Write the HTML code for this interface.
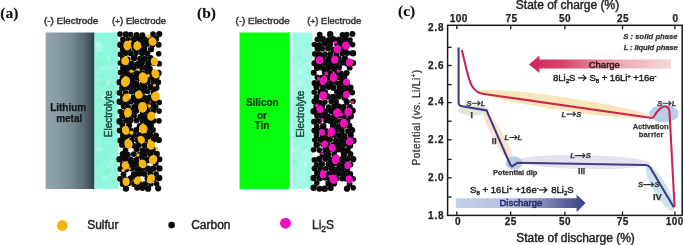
<!DOCTYPE html>
<html><head><meta charset="utf-8"><style>
html,body{margin:0;padding:0;background:#fff;width:685px;height:245px;overflow:hidden;}
svg{display:block;font-family:"Liberation Sans", sans-serif;filter:blur(0.35px);}
</style></head><body>
<svg width="685" height="245" viewBox="0 0 685 245"><defs>
<linearGradient id="gMetal" x1="0" x2="1" y1="0" y2="0">
  <stop offset="0" stop-color="#a3b3b8"/>
  <stop offset="0.04" stop-color="#8fa3aa"/>
  <stop offset="0.3" stop-color="#879ba2"/>
  <stop offset="0.55" stop-color="#74898f"/>
  <stop offset="0.8" stop-color="#546a71"/>
  <stop offset="1" stop-color="#2d4046"/>
</linearGradient>
<linearGradient id="gCharge" x1="0" x2="1" y1="0" y2="0">
  <stop offset="0" stop-color="#d1255c"/>
  <stop offset="0.25" stop-color="#d8466e"/>
  <stop offset="0.45" stop-color="#e27d97"/>
  <stop offset="0.7" stop-color="#eeb1bc"/>
  <stop offset="1" stop-color="#f6d6d9"/>
</linearGradient>
<linearGradient id="gDis" x1="0" x2="1" y1="0" y2="0">
  <stop offset="0" stop-color="#c0d3e9"/>
  <stop offset="0.42" stop-color="#b3bfdb"/>
  <stop offset="0.68" stop-color="#8089b8"/>
  <stop offset="1" stop-color="#3a4182"/>
</linearGradient>
</defs>
<text x="0.3" y="18.1" font-family='"Liberation Serif", serif' font-size="15.5" font-weight="bold" font-style="normal" fill="#111" stroke="#111" stroke-width="0.15" text-anchor="start" >(a)</text>
<text x="197" y="17.9" font-family='"Liberation Serif", serif' font-size="15.5" font-weight="bold" font-style="normal" fill="#111" stroke="#111" stroke-width="0.15" text-anchor="start" >(b)</text>
<text x="398" y="15.8" font-family='"Liberation Serif", serif' font-size="15.5" font-weight="bold" font-style="normal" fill="#111" stroke="#111" stroke-width="0.15" text-anchor="start" >(c)</text>
<text x="0" y="0" font-family='"Liberation Sans", sans-serif' font-size="9" font-weight="normal" font-style="normal" fill="#333" stroke="#333" stroke-width="0.42" text-anchor="start"  transform="translate(44 23.5) scale(1.095 1)">(-) Electrode</text>
<text x="0" y="0" font-family='"Liberation Sans", sans-serif' font-size="9" font-weight="normal" font-style="normal" fill="#333" stroke="#333" stroke-width="0.42" text-anchor="start"  transform="translate(112 23.5) scale(1.055 1)">(<tspan font-size="8">+</tspan>) Electrode</text>
<rect x="45.5" y="32.5" width="49" height="156.5" fill="url(#gMetal)"/>
<rect x="94.5" y="32.5" width="24" height="156.5" fill="#8ef7dc"/>
<g clip-path="none"><ellipse cx="101.5" cy="117.7" rx="2.2" ry="2.7" fill="#80f2c8" fill-opacity="0.16"/><ellipse cx="97.3" cy="162.3" rx="2.0" ry="2.0" fill="#80f2c8" fill-opacity="0.22"/><ellipse cx="112.9" cy="107.4" rx="2.8" ry="1.8" fill="#80f2c8" fill-opacity="0.28"/><ellipse cx="106.9" cy="147.7" rx="2.8" ry="1.6" fill="#80f2c8" fill-opacity="0.24"/><ellipse cx="102.7" cy="39.7" rx="3.2" ry="2.4" fill="#80f2c8" fill-opacity="0.28"/><ellipse cx="110.6" cy="175.0" rx="2.3" ry="3.1" fill="#d0fff4" fill-opacity="0.39"/><ellipse cx="113.7" cy="49.8" rx="1.8" ry="1.9" fill="#80f2c8" fill-opacity="0.22"/><ellipse cx="108.9" cy="80.8" rx="2.5" ry="2.3" fill="#d0fff4" fill-opacity="0.32"/><ellipse cx="108.1" cy="172.4" rx="2.9" ry="3.4" fill="#80f2c8" fill-opacity="0.30"/><ellipse cx="109.8" cy="59.8" rx="3.2" ry="3.4" fill="#80f2c8" fill-opacity="0.24"/><ellipse cx="110.6" cy="67.1" rx="3.2" ry="2.6" fill="#d0fff4" fill-opacity="0.21"/><ellipse cx="113.2" cy="185.5" rx="1.7" ry="3.1" fill="#d0fff4" fill-opacity="0.23"/><ellipse cx="102.6" cy="151.9" rx="3.2" ry="1.6" fill="#80f2c8" fill-opacity="0.16"/><ellipse cx="110.7" cy="85.3" rx="3.3" ry="3.5" fill="#80f2c8" fill-opacity="0.30"/><ellipse cx="102.9" cy="46.7" rx="2.7" ry="1.6" fill="#d0fff4" fill-opacity="0.28"/><ellipse cx="108.6" cy="58.7" rx="1.6" ry="3.2" fill="#d0fff4" fill-opacity="0.39"/><ellipse cx="114.0" cy="92.4" rx="2.4" ry="2.5" fill="#80f2c8" fill-opacity="0.24"/><ellipse cx="107.6" cy="129.3" rx="3.4" ry="2.5" fill="#d0fff4" fill-opacity="0.34"/><ellipse cx="101.5" cy="80.8" rx="3.5" ry="2.5" fill="#80f2c8" fill-opacity="0.15"/><ellipse cx="104.9" cy="123.2" rx="1.5" ry="2.7" fill="#80f2c8" fill-opacity="0.16"/><ellipse cx="108.9" cy="105.9" rx="2.9" ry="2.2" fill="#80f2c8" fill-opacity="0.26"/><ellipse cx="97.4" cy="44.2" rx="2.9" ry="3.4" fill="#d0fff4" fill-opacity="0.29"/><ellipse cx="108.3" cy="83.6" rx="2.2" ry="2.1" fill="#d0fff4" fill-opacity="0.32"/><ellipse cx="102.7" cy="92.3" rx="3.0" ry="1.6" fill="#80f2c8" fill-opacity="0.26"/><ellipse cx="102.9" cy="68.8" rx="3.1" ry="2.0" fill="#d0fff4" fill-opacity="0.29"/><ellipse cx="110.3" cy="50.5" rx="2.1" ry="2.2" fill="#80f2c8" fill-opacity="0.22"/><ellipse cx="113.3" cy="60.7" rx="2.2" ry="2.8" fill="#80f2c8" fill-opacity="0.22"/><ellipse cx="101.3" cy="53.4" rx="2.6" ry="1.9" fill="#80f2c8" fill-opacity="0.28"/><ellipse cx="100.5" cy="77.3" rx="3.1" ry="2.8" fill="#80f2c8" fill-opacity="0.20"/><ellipse cx="99.5" cy="79.4" rx="3.1" ry="2.0" fill="#d0fff4" fill-opacity="0.28"/><ellipse cx="105.0" cy="97.2" rx="3.3" ry="1.8" fill="#d0fff4" fill-opacity="0.39"/><ellipse cx="113.7" cy="185.0" rx="2.4" ry="3.4" fill="#80f2c8" fill-opacity="0.18"/><ellipse cx="111.2" cy="162.2" rx="2.8" ry="2.5" fill="#d0fff4" fill-opacity="0.27"/><ellipse cx="101.3" cy="45.3" rx="2.7" ry="2.1" fill="#80f2c8" fill-opacity="0.16"/><ellipse cx="114.2" cy="140.4" rx="3.3" ry="3.3" fill="#80f2c8" fill-opacity="0.24"/><ellipse cx="97.2" cy="148.3" rx="1.8" ry="2.1" fill="#80f2c8" fill-opacity="0.23"/><ellipse cx="104.9" cy="177.7" rx="2.7" ry="2.2" fill="#d0fff4" fill-opacity="0.37"/><ellipse cx="106.1" cy="153.9" rx="2.2" ry="1.9" fill="#80f2c8" fill-opacity="0.27"/><ellipse cx="100.3" cy="155.3" rx="3.3" ry="3.1" fill="#80f2c8" fill-opacity="0.15"/><ellipse cx="108.9" cy="166.1" rx="1.6" ry="2.0" fill="#d0fff4" fill-opacity="0.31"/><ellipse cx="105.0" cy="106.9" rx="3.1" ry="1.5" fill="#d0fff4" fill-opacity="0.23"/><ellipse cx="99.4" cy="45.4" rx="3.4" ry="3.2" fill="#d0fff4" fill-opacity="0.30"/><ellipse cx="103.0" cy="82.8" rx="2.2" ry="2.8" fill="#80f2c8" fill-opacity="0.20"/><ellipse cx="100.6" cy="85.0" rx="1.7" ry="2.6" fill="#80f2c8" fill-opacity="0.21"/><ellipse cx="98.5" cy="62.1" rx="2.2" ry="2.7" fill="#80f2c8" fill-opacity="0.21"/><ellipse cx="112.2" cy="129.7" rx="2.4" ry="2.2" fill="#d0fff4" fill-opacity="0.34"/><ellipse cx="105.0" cy="140.5" rx="2.4" ry="2.0" fill="#80f2c8" fill-opacity="0.25"/><ellipse cx="98.4" cy="99.6" rx="2.4" ry="3.3" fill="#80f2c8" fill-opacity="0.21"/><ellipse cx="114.1" cy="155.2" rx="2.0" ry="2.4" fill="#d0fff4" fill-opacity="0.36"/><ellipse cx="109.6" cy="169.9" rx="3.1" ry="2.8" fill="#80f2c8" fill-opacity="0.23"/><ellipse cx="99.0" cy="124.3" rx="1.5" ry="1.8" fill="#80f2c8" fill-opacity="0.16"/><ellipse cx="98.7" cy="50.1" rx="3.3" ry="1.9" fill="#d0fff4" fill-opacity="0.37"/><ellipse cx="99.3" cy="163.3" rx="2.8" ry="3.2" fill="#80f2c8" fill-opacity="0.24"/><ellipse cx="112.2" cy="40.5" rx="3.0" ry="2.5" fill="#80f2c8" fill-opacity="0.17"/><ellipse cx="111.2" cy="177.1" rx="1.6" ry="2.1" fill="#80f2c8" fill-opacity="0.27"/><ellipse cx="101.6" cy="62.3" rx="2.0" ry="2.7" fill="#80f2c8" fill-opacity="0.21"/><ellipse cx="104.0" cy="95.3" rx="2.2" ry="2.3" fill="#d0fff4" fill-opacity="0.30"/><ellipse cx="115.5" cy="97.8" rx="3.0" ry="1.8" fill="#80f2c8" fill-opacity="0.26"/><ellipse cx="109.8" cy="113.6" rx="2.5" ry="2.8" fill="#80f2c8" fill-opacity="0.17"/><ellipse cx="98.8" cy="148.7" rx="3.3" ry="2.5" fill="#d0fff4" fill-opacity="0.34"/></g>
<g fill="#0a0a0a"><circle cx="120.0" cy="34.1" r="2.8"/><circle cx="125.8" cy="34.4" r="3.1"/><circle cx="130.6" cy="34.5" r="2.8"/><circle cx="136.6" cy="35.0" r="2.9"/><circle cx="142.4" cy="35.2" r="3.0"/><circle cx="153.0" cy="34.1" r="2.9"/><circle cx="159.2" cy="34.1" r="3.1"/><circle cx="122.8" cy="39.4" r="2.8"/><circle cx="128.1" cy="39.6" r="2.9"/><circle cx="134.1" cy="39.3" r="3.2"/><circle cx="139.8" cy="39.0" r="3.1"/><circle cx="145.5" cy="39.7" r="3.3"/><circle cx="150.0" cy="39.2" r="2.8"/><circle cx="156.0" cy="38.7" r="3.2"/><circle cx="120.4" cy="44.7" r="3.2"/><circle cx="125.9" cy="44.3" r="3.3"/><circle cx="131.9" cy="44.1" r="2.8"/><circle cx="142.7" cy="43.8" r="3.2"/><circle cx="147.1" cy="44.1" r="2.8"/><circle cx="152.6" cy="44.5" r="2.9"/><circle cx="158.6" cy="44.7" r="3.0"/><circle cx="123.1" cy="49.5" r="3.3"/><circle cx="128.2" cy="48.8" r="3.3"/><circle cx="134.6" cy="48.5" r="2.9"/><circle cx="139.1" cy="48.9" r="2.9"/><circle cx="144.3" cy="48.8" r="3.1"/><circle cx="151.1" cy="49.2" r="3.1"/><circle cx="120.6" cy="54.3" r="3.0"/><circle cx="125.6" cy="53.2" r="2.8"/><circle cx="130.6" cy="53.3" r="3.0"/><circle cx="136.1" cy="53.1" r="2.8"/><circle cx="142.1" cy="53.1" r="3.1"/><circle cx="147.3" cy="53.4" r="3.0"/><circle cx="158.7" cy="53.7" r="2.8"/><circle cx="122.8" cy="58.2" r="2.8"/><circle cx="127.8" cy="59.2" r="2.8"/><circle cx="134.1" cy="57.9" r="3.3"/><circle cx="140.0" cy="58.8" r="3.0"/><circle cx="144.5" cy="58.9" r="3.2"/><circle cx="150.3" cy="58.2" r="3.3"/><circle cx="120.6" cy="63.0" r="3.0"/><circle cx="125.1" cy="62.7" r="2.9"/><circle cx="131.5" cy="64.0" r="3.3"/><circle cx="137.4" cy="64.0" r="2.9"/><circle cx="141.9" cy="62.9" r="3.1"/><circle cx="148.3" cy="63.8" r="3.1"/><circle cx="153.7" cy="62.8" r="3.3"/><circle cx="159.1" cy="63.7" r="2.9"/><circle cx="123.4" cy="67.9" r="3.3"/><circle cx="128.4" cy="68.0" r="3.2"/><circle cx="133.5" cy="67.6" r="3.3"/><circle cx="139.9" cy="67.7" r="3.3"/><circle cx="145.2" cy="67.9" r="2.8"/><circle cx="149.8" cy="68.8" r="3.1"/><circle cx="120.7" cy="72.5" r="2.9"/><circle cx="125.4" cy="73.1" r="3.0"/><circle cx="130.7" cy="73.5" r="3.0"/><circle cx="136.9" cy="73.5" r="3.3"/><circle cx="142.3" cy="73.0" r="2.8"/><circle cx="147.7" cy="72.5" r="3.2"/><circle cx="152.8" cy="72.9" r="3.1"/><circle cx="158.5" cy="73.0" r="3.2"/><circle cx="122.4" cy="77.8" r="2.9"/><circle cx="128.9" cy="77.8" r="3.2"/><circle cx="134.6" cy="77.7" r="3.1"/><circle cx="139.5" cy="78.0" r="3.1"/><circle cx="145.0" cy="78.4" r="3.3"/><circle cx="151.1" cy="77.4" r="3.3"/><circle cx="156.5" cy="77.2" r="3.0"/><circle cx="119.7" cy="82.2" r="3.2"/><circle cx="126.1" cy="83.1" r="3.2"/><circle cx="131.5" cy="82.1" r="3.3"/><circle cx="136.4" cy="83.2" r="3.0"/><circle cx="142.9" cy="83.0" r="3.0"/><circle cx="147.8" cy="82.3" r="2.9"/><circle cx="153.6" cy="81.9" r="3.0"/><circle cx="158.1" cy="82.3" r="3.1"/><circle cx="122.4" cy="88.0" r="3.3"/><circle cx="127.9" cy="87.0" r="3.2"/><circle cx="133.7" cy="86.8" r="3.3"/><circle cx="139.9" cy="87.0" r="3.3"/><circle cx="145.1" cy="87.6" r="2.8"/><circle cx="150.8" cy="87.2" r="3.3"/><circle cx="156.2" cy="87.8" r="3.3"/><circle cx="119.6" cy="92.7" r="3.0"/><circle cx="125.8" cy="92.7" r="2.8"/><circle cx="131.3" cy="91.8" r="2.8"/><circle cx="136.1" cy="91.7" r="2.9"/><circle cx="142.6" cy="91.9" r="2.9"/><circle cx="147.5" cy="91.5" r="2.8"/><circle cx="153.6" cy="92.2" r="3.0"/><circle cx="122.9" cy="96.9" r="3.0"/><circle cx="133.8" cy="97.4" r="3.1"/><circle cx="139.4" cy="96.7" r="2.8"/><circle cx="144.4" cy="97.3" r="2.8"/><circle cx="149.9" cy="97.4" r="3.2"/><circle cx="155.7" cy="96.6" r="3.0"/><circle cx="119.8" cy="101.7" r="3.3"/><circle cx="126.4" cy="101.8" r="3.3"/><circle cx="131.0" cy="101.5" r="3.0"/><circle cx="136.7" cy="101.8" r="3.1"/><circle cx="141.6" cy="101.4" r="3.0"/><circle cx="147.1" cy="101.1" r="2.9"/><circle cx="153.4" cy="101.8" r="3.1"/><circle cx="159.1" cy="102.3" r="2.9"/><circle cx="123.7" cy="106.1" r="3.1"/><circle cx="127.9" cy="107.0" r="3.1"/><circle cx="134.3" cy="107.0" r="3.1"/><circle cx="139.5" cy="107.0" r="3.2"/><circle cx="145.1" cy="107.1" r="3.2"/><circle cx="150.1" cy="105.9" r="3.0"/><circle cx="155.4" cy="107.0" r="3.1"/><circle cx="120.4" cy="111.6" r="2.8"/><circle cx="126.2" cy="111.7" r="3.1"/><circle cx="131.5" cy="110.7" r="2.9"/><circle cx="136.2" cy="111.0" r="2.9"/><circle cx="142.6" cy="112.0" r="3.0"/><circle cx="147.7" cy="111.6" r="3.1"/><circle cx="153.4" cy="110.8" r="2.9"/><circle cx="159.1" cy="111.1" r="2.8"/><circle cx="122.4" cy="115.8" r="3.2"/><circle cx="128.7" cy="115.9" r="3.0"/><circle cx="134.0" cy="115.6" r="2.9"/><circle cx="140.2" cy="116.8" r="3.0"/><circle cx="145.4" cy="116.8" r="2.9"/><circle cx="150.1" cy="116.8" r="3.1"/><circle cx="119.7" cy="121.4" r="3.3"/><circle cx="126.0" cy="120.6" r="3.0"/><circle cx="130.6" cy="120.3" r="3.0"/><circle cx="136.5" cy="120.4" r="2.9"/><circle cx="142.7" cy="120.3" r="3.3"/><circle cx="147.2" cy="121.5" r="3.3"/><circle cx="153.0" cy="120.8" r="3.3"/><circle cx="158.9" cy="120.8" r="2.9"/><circle cx="122.4" cy="125.2" r="2.9"/><circle cx="129.1" cy="125.4" r="3.1"/><circle cx="140.0" cy="126.2" r="3.3"/><circle cx="145.6" cy="125.8" r="2.8"/><circle cx="150.8" cy="125.7" r="3.1"/><circle cx="119.7" cy="130.5" r="2.9"/><circle cx="126.1" cy="131.2" r="3.1"/><circle cx="131.0" cy="130.6" r="2.9"/><circle cx="136.3" cy="130.1" r="3.0"/><circle cx="147.7" cy="130.0" r="2.8"/><circle cx="153.0" cy="130.0" r="2.9"/><circle cx="122.9" cy="135.2" r="3.0"/><circle cx="128.3" cy="134.7" r="3.3"/><circle cx="133.5" cy="135.4" r="3.3"/><circle cx="139.1" cy="135.0" r="3.0"/><circle cx="144.9" cy="136.0" r="3.3"/><circle cx="149.8" cy="134.7" r="3.3"/><circle cx="156.0" cy="135.5" r="3.0"/><circle cx="120.8" cy="140.6" r="3.3"/><circle cx="125.4" cy="139.6" r="3.1"/><circle cx="131.5" cy="140.8" r="3.1"/><circle cx="137.1" cy="140.1" r="2.8"/><circle cx="142.6" cy="139.8" r="3.1"/><circle cx="147.5" cy="139.6" r="3.1"/><circle cx="153.5" cy="139.6" r="3.1"/><circle cx="158.9" cy="140.0" r="3.1"/><circle cx="122.3" cy="144.7" r="3.3"/><circle cx="128.7" cy="145.5" r="2.9"/><circle cx="133.6" cy="145.6" r="2.9"/><circle cx="138.8" cy="144.9" r="3.0"/><circle cx="144.7" cy="145.2" r="2.9"/><circle cx="149.8" cy="144.7" r="3.2"/><circle cx="125.5" cy="150.2" r="2.9"/><circle cx="136.7" cy="149.3" r="3.0"/><circle cx="142.5" cy="150.4" r="3.0"/><circle cx="147.3" cy="150.4" r="2.8"/><circle cx="152.6" cy="149.6" r="3.3"/><circle cx="122.8" cy="154.1" r="3.2"/><circle cx="127.8" cy="154.8" r="3.0"/><circle cx="133.8" cy="154.1" r="2.9"/><circle cx="139.3" cy="155.2" r="3.3"/><circle cx="144.6" cy="154.3" r="3.2"/><circle cx="150.4" cy="153.9" r="3.0"/><circle cx="156.6" cy="154.1" r="3.3"/><circle cx="119.6" cy="159.2" r="3.2"/><circle cx="125.1" cy="158.7" r="3.3"/><circle cx="130.9" cy="159.7" r="3.0"/><circle cx="136.4" cy="160.0" r="2.9"/><circle cx="142.6" cy="159.1" r="2.8"/><circle cx="148.1" cy="159.9" r="3.3"/><circle cx="152.6" cy="159.0" r="3.3"/><circle cx="159.4" cy="159.2" r="3.0"/><circle cx="123.0" cy="164.7" r="3.2"/><circle cx="128.8" cy="164.6" r="3.1"/><circle cx="133.8" cy="163.9" r="3.2"/><circle cx="138.9" cy="163.7" r="2.9"/><circle cx="144.4" cy="163.5" r="2.9"/><circle cx="155.7" cy="163.6" r="3.0"/><circle cx="120.5" cy="168.9" r="3.0"/><circle cx="125.9" cy="169.2" r="3.3"/><circle cx="131.5" cy="168.4" r="2.9"/><circle cx="136.8" cy="168.8" r="2.9"/><circle cx="141.9" cy="168.6" r="3.3"/><circle cx="147.9" cy="168.7" r="3.3"/><circle cx="153.3" cy="168.6" r="3.1"/><circle cx="159.4" cy="168.4" r="3.2"/><circle cx="123.5" cy="174.3" r="2.9"/><circle cx="134.1" cy="174.4" r="3.3"/><circle cx="139.4" cy="173.4" r="3.3"/><circle cx="144.4" cy="173.9" r="2.9"/><circle cx="150.3" cy="173.2" r="2.9"/><circle cx="156.1" cy="174.0" r="2.8"/><circle cx="120.0" cy="178.8" r="2.9"/><circle cx="125.3" cy="179.0" r="2.8"/><circle cx="130.7" cy="178.4" r="3.1"/><circle cx="136.2" cy="178.1" r="3.0"/><circle cx="147.5" cy="178.6" r="3.0"/><circle cx="153.8" cy="179.2" r="2.9"/><circle cx="159.1" cy="178.1" r="3.3"/><circle cx="122.9" cy="183.8" r="3.3"/><circle cx="128.4" cy="182.9" r="3.1"/><circle cx="134.2" cy="183.9" r="3.1"/><circle cx="139.3" cy="183.4" r="2.9"/><circle cx="145.0" cy="183.9" r="3.0"/><circle cx="150.9" cy="184.0" r="2.8"/><circle cx="156.6" cy="184.0" r="2.8"/><circle cx="125.9" cy="188.6" r="3.2"/><circle cx="137.2" cy="187.7" r="3.0"/><circle cx="142.3" cy="188.0" r="2.9"/><circle cx="148.1" cy="188.7" r="3.1"/><circle cx="158.2" cy="188.3" r="3.1"/></g><g fill="#f6b713"><ellipse cx="127.3" cy="45.6" rx="3.9" ry="4.8" transform="rotate(-3 127.3 45.6)"/><ellipse cx="137.3" cy="46.0" rx="4.0" ry="4.4" transform="rotate(16 137.3 46.0)"/><ellipse cx="152.5" cy="41.6" rx="4.0" ry="4.3" transform="rotate(-22 152.5 41.6)"/><ellipse cx="125.2" cy="60.8" rx="4.0" ry="4.3" transform="rotate(8 125.2 60.8)"/><ellipse cx="154.5" cy="61.5" rx="3.6" ry="4.2" transform="rotate(-7 154.5 61.5)"/><ellipse cx="125.5" cy="81.6" rx="4.5" ry="5.5" transform="rotate(19 125.5 81.6)"/><ellipse cx="143.3" cy="77.9" rx="4.5" ry="5.7" transform="rotate(-20 143.3 77.9)"/><ellipse cx="155.4" cy="73.7" rx="3.9" ry="4.8" transform="rotate(-20 155.4 73.7)"/><ellipse cx="126.3" cy="97.8" rx="3.6" ry="4.3" transform="rotate(25 126.3 97.8)"/><ellipse cx="138.8" cy="94.7" rx="3.8" ry="4.0" transform="rotate(-19 138.8 94.7)"/><ellipse cx="155.5" cy="96.4" rx="4.4" ry="4.8" transform="rotate(17 155.5 96.4)"/><ellipse cx="127.9" cy="112.6" rx="3.9" ry="4.9" transform="rotate(3 127.9 112.6)"/><ellipse cx="142.6" cy="107.3" rx="4.5" ry="5.4" transform="rotate(-6 142.6 107.3)"/><ellipse cx="151.3" cy="116.1" rx="4.1" ry="4.6" transform="rotate(16 151.3 116.1)"/><ellipse cx="125.7" cy="130.3" rx="3.5" ry="4.5" transform="rotate(-15 125.7 130.3)"/><ellipse cx="143.3" cy="128.7" rx="4.2" ry="4.7" transform="rotate(-30 143.3 128.7)"/><ellipse cx="128.5" cy="143.8" rx="4.0" ry="5.1" transform="rotate(-22 128.5 143.8)"/><ellipse cx="141.2" cy="139.7" rx="3.5" ry="4.0" transform="rotate(-24 141.2 139.7)"/><ellipse cx="151.0" cy="145.3" rx="4.1" ry="4.5" transform="rotate(7 151.0 145.3)"/><ellipse cx="125.5" cy="165.4" rx="3.7" ry="4.1" transform="rotate(-24 125.5 165.4)"/><ellipse cx="142.6" cy="163.9" rx="3.9" ry="4.4" transform="rotate(-29 142.6 163.9)"/><ellipse cx="153.1" cy="159.6" rx="4.1" ry="4.8" transform="rotate(26 153.1 159.6)"/><ellipse cx="126.2" cy="181.7" rx="3.5" ry="4.2" transform="rotate(-6 126.2 181.7)"/><ellipse cx="137.5" cy="180.5" rx="3.5" ry="4.2" transform="rotate(26 137.5 180.5)"/><ellipse cx="150.9" cy="178.8" rx="4.0" ry="4.8" transform="rotate(19 150.9 178.8)"/><circle cx="128.0" cy="82.4" r="1.5"/><circle cx="123.3" cy="170.2" r="1.8"/><circle cx="148.3" cy="36.5" r="1.9"/><circle cx="149.4" cy="106.0" r="1.8"/><circle cx="138.5" cy="69.7" r="1.4"/><circle cx="130.2" cy="41.4" r="1.5"/><circle cx="149.6" cy="140.8" r="1.9"/><circle cx="148.2" cy="75.8" r="1.7"/><circle cx="137.9" cy="155.0" r="1.7"/><circle cx="131.4" cy="132.8" r="2.0"/><circle cx="129.6" cy="168.8" r="1.3"/><circle cx="131.3" cy="71.3" r="1.8"/><circle cx="156.9" cy="148.5" r="1.5"/><circle cx="154.5" cy="85.3" r="1.5"/></g>
<text x="68.2" y="110.6" font-family='"Liberation Sans", sans-serif' font-size="10" font-weight="bold" font-style="normal" fill="#15191b" stroke="#15191b" stroke-width="0.25" text-anchor="middle" >Lithium</text>
<text x="69.2" y="121.6" font-family='"Liberation Sans", sans-serif' font-size="10" font-weight="bold" font-style="normal" fill="#15191b" stroke="#15191b" stroke-width="0.25" text-anchor="middle" >metal</text>
<text x="0" y="0" font-family='"Liberation Sans", sans-serif' font-size="10" font-weight="normal" font-style="normal" fill="#184a38" stroke="#184a38" stroke-width="0.42" text-anchor="middle" transform="translate(111.6 113.8) rotate(-90)">Electrolyte</text>
<text x="0" y="0" font-family='"Liberation Sans", sans-serif' font-size="9" font-weight="normal" font-style="normal" fill="#333" stroke="#333" stroke-width="0.42" text-anchor="start"  transform="translate(235.5 23.5) scale(1.095 1)">(-) Electrode</text>
<text x="0" y="0" font-family='"Liberation Sans", sans-serif' font-size="9" font-weight="normal" font-style="normal" fill="#333" stroke="#333" stroke-width="0.42" text-anchor="start"  transform="translate(307.2 23.5) scale(1.055 1)">(<tspan font-size="8">+</tspan>) Electrode</text>
<rect x="239.5" y="32.5" width="50" height="156.5" fill="#06fd0c"/>
<rect x="289.5" y="32.5" width="23" height="156.5" fill="#a2f9e6"/>
<rect x="289.5" y="32.5" width="3" height="156.5" fill="#c8fbef"/>
<g clip-path="none"><ellipse cx="303.2" cy="147.8" rx="3.1" ry="3.4" fill="#80f2c8" fill-opacity="0.29"/><ellipse cx="292.5" cy="105.8" rx="3.4" ry="2.8" fill="#80f2c8" fill-opacity="0.17"/><ellipse cx="300.4" cy="72.5" rx="2.6" ry="2.6" fill="#d0fff4" fill-opacity="0.24"/><ellipse cx="297.0" cy="174.3" rx="3.0" ry="1.8" fill="#80f2c8" fill-opacity="0.17"/><ellipse cx="303.1" cy="54.3" rx="1.5" ry="3.2" fill="#d0fff4" fill-opacity="0.24"/><ellipse cx="309.7" cy="167.6" rx="2.1" ry="3.4" fill="#80f2c8" fill-opacity="0.25"/><ellipse cx="295.7" cy="178.0" rx="2.9" ry="3.4" fill="#80f2c8" fill-opacity="0.19"/><ellipse cx="298.5" cy="60.2" rx="1.8" ry="1.6" fill="#d0fff4" fill-opacity="0.32"/><ellipse cx="292.1" cy="138.0" rx="2.2" ry="2.1" fill="#80f2c8" fill-opacity="0.22"/><ellipse cx="297.7" cy="108.1" rx="2.9" ry="1.6" fill="#80f2c8" fill-opacity="0.15"/><ellipse cx="305.5" cy="163.4" rx="1.5" ry="3.1" fill="#d0fff4" fill-opacity="0.32"/><ellipse cx="292.2" cy="42.1" rx="1.9" ry="3.4" fill="#d0fff4" fill-opacity="0.35"/><ellipse cx="308.7" cy="178.2" rx="2.2" ry="2.2" fill="#80f2c8" fill-opacity="0.27"/><ellipse cx="293.9" cy="148.8" rx="3.1" ry="3.2" fill="#d0fff4" fill-opacity="0.39"/><ellipse cx="293.6" cy="86.8" rx="2.7" ry="3.3" fill="#d0fff4" fill-opacity="0.38"/><ellipse cx="301.8" cy="82.5" rx="2.1" ry="1.9" fill="#d0fff4" fill-opacity="0.23"/><ellipse cx="304.4" cy="186.5" rx="1.8" ry="1.6" fill="#80f2c8" fill-opacity="0.23"/><ellipse cx="299.3" cy="71.1" rx="2.7" ry="3.2" fill="#d0fff4" fill-opacity="0.28"/><ellipse cx="293.0" cy="174.2" rx="1.6" ry="2.5" fill="#80f2c8" fill-opacity="0.17"/><ellipse cx="305.2" cy="179.4" rx="2.8" ry="3.1" fill="#d0fff4" fill-opacity="0.29"/><ellipse cx="294.7" cy="163.4" rx="2.1" ry="2.4" fill="#80f2c8" fill-opacity="0.28"/><ellipse cx="309.6" cy="103.9" rx="2.5" ry="3.0" fill="#d0fff4" fill-opacity="0.26"/><ellipse cx="299.3" cy="57.3" rx="2.3" ry="3.5" fill="#80f2c8" fill-opacity="0.24"/><ellipse cx="301.0" cy="86.4" rx="1.7" ry="2.0" fill="#80f2c8" fill-opacity="0.28"/><ellipse cx="298.5" cy="154.5" rx="3.0" ry="2.9" fill="#80f2c8" fill-opacity="0.26"/><ellipse cx="298.5" cy="142.1" rx="2.1" ry="2.5" fill="#80f2c8" fill-opacity="0.25"/><ellipse cx="297.3" cy="178.7" rx="2.8" ry="2.7" fill="#d0fff4" fill-opacity="0.31"/><ellipse cx="296.5" cy="137.1" rx="2.4" ry="3.1" fill="#80f2c8" fill-opacity="0.27"/><ellipse cx="298.3" cy="132.9" rx="3.0" ry="3.2" fill="#d0fff4" fill-opacity="0.37"/><ellipse cx="307.7" cy="139.6" rx="3.5" ry="3.4" fill="#80f2c8" fill-opacity="0.23"/><ellipse cx="295.0" cy="162.2" rx="3.4" ry="2.5" fill="#80f2c8" fill-opacity="0.26"/><ellipse cx="305.1" cy="61.1" rx="3.1" ry="2.7" fill="#80f2c8" fill-opacity="0.21"/><ellipse cx="303.2" cy="152.8" rx="2.8" ry="2.9" fill="#d0fff4" fill-opacity="0.23"/><ellipse cx="299.9" cy="133.8" rx="1.9" ry="2.9" fill="#80f2c8" fill-opacity="0.16"/><ellipse cx="300.5" cy="69.4" rx="1.6" ry="1.8" fill="#d0fff4" fill-opacity="0.24"/><ellipse cx="295.5" cy="40.4" rx="2.4" ry="2.3" fill="#80f2c8" fill-opacity="0.24"/><ellipse cx="296.3" cy="172.3" rx="1.5" ry="2.3" fill="#d0fff4" fill-opacity="0.28"/><ellipse cx="294.1" cy="161.4" rx="2.2" ry="1.6" fill="#80f2c8" fill-opacity="0.16"/><ellipse cx="301.8" cy="86.6" rx="2.7" ry="3.4" fill="#80f2c8" fill-opacity="0.21"/><ellipse cx="306.6" cy="132.6" rx="2.2" ry="1.8" fill="#80f2c8" fill-opacity="0.23"/><ellipse cx="309.2" cy="182.1" rx="2.7" ry="2.2" fill="#80f2c8" fill-opacity="0.15"/><ellipse cx="293.9" cy="121.0" rx="2.7" ry="1.8" fill="#80f2c8" fill-opacity="0.28"/><ellipse cx="298.8" cy="100.6" rx="2.0" ry="2.1" fill="#80f2c8" fill-opacity="0.21"/><ellipse cx="309.3" cy="173.9" rx="2.7" ry="2.0" fill="#80f2c8" fill-opacity="0.22"/><ellipse cx="299.5" cy="83.5" rx="3.5" ry="2.5" fill="#d0fff4" fill-opacity="0.30"/><ellipse cx="294.2" cy="129.5" rx="2.4" ry="2.1" fill="#80f2c8" fill-opacity="0.27"/><ellipse cx="292.2" cy="115.9" rx="2.0" ry="3.4" fill="#80f2c8" fill-opacity="0.19"/><ellipse cx="296.8" cy="58.5" rx="3.5" ry="2.1" fill="#80f2c8" fill-opacity="0.22"/><ellipse cx="303.6" cy="126.8" rx="3.0" ry="1.7" fill="#80f2c8" fill-opacity="0.20"/><ellipse cx="301.6" cy="86.1" rx="2.1" ry="2.6" fill="#d0fff4" fill-opacity="0.27"/><ellipse cx="305.4" cy="124.8" rx="1.6" ry="2.0" fill="#d0fff4" fill-opacity="0.38"/><ellipse cx="308.0" cy="117.9" rx="1.5" ry="3.1" fill="#d0fff4" fill-opacity="0.32"/><ellipse cx="304.7" cy="131.1" rx="2.5" ry="3.3" fill="#d0fff4" fill-opacity="0.28"/><ellipse cx="307.3" cy="64.9" rx="2.1" ry="3.2" fill="#d0fff4" fill-opacity="0.37"/><ellipse cx="304.5" cy="100.8" rx="2.1" ry="3.1" fill="#80f2c8" fill-opacity="0.17"/><ellipse cx="300.6" cy="118.5" rx="2.5" ry="2.2" fill="#d0fff4" fill-opacity="0.32"/><ellipse cx="306.6" cy="45.4" rx="2.0" ry="3.1" fill="#80f2c8" fill-opacity="0.25"/><ellipse cx="292.5" cy="144.8" rx="3.5" ry="3.5" fill="#80f2c8" fill-opacity="0.16"/><ellipse cx="307.2" cy="68.3" rx="2.8" ry="3.4" fill="#80f2c8" fill-opacity="0.17"/><ellipse cx="297.3" cy="174.5" rx="1.8" ry="2.7" fill="#d0fff4" fill-opacity="0.23"/></g>
<g fill="#0a0a0a"><circle cx="319.7" cy="34.6" r="2.9"/><circle cx="330.2" cy="34.3" r="3.2"/><circle cx="342.4" cy="34.8" r="2.8"/><circle cx="346.6" cy="34.6" r="2.9"/><circle cx="352.4" cy="33.9" r="3.0"/><circle cx="317.5" cy="39.4" r="3.0"/><circle cx="322.7" cy="39.3" r="3.3"/><circle cx="328.7" cy="39.8" r="2.9"/><circle cx="333.1" cy="39.1" r="3.2"/><circle cx="338.9" cy="39.8" r="3.3"/><circle cx="345.0" cy="38.7" r="3.3"/><circle cx="350.0" cy="40.0" r="2.8"/><circle cx="314.4" cy="44.5" r="2.8"/><circle cx="319.5" cy="44.8" r="2.8"/><circle cx="324.9" cy="43.6" r="3.2"/><circle cx="330.3" cy="44.2" r="2.9"/><circle cx="336.6" cy="43.6" r="2.8"/><circle cx="341.6" cy="43.7" r="3.3"/><circle cx="347.7" cy="43.9" r="2.9"/><circle cx="352.6" cy="44.6" r="2.8"/><circle cx="317.7" cy="48.5" r="3.2"/><circle cx="322.3" cy="48.7" r="2.8"/><circle cx="328.1" cy="48.6" r="3.0"/><circle cx="333.4" cy="49.6" r="3.1"/><circle cx="339.5" cy="48.5" r="3.3"/><circle cx="344.9" cy="48.6" r="3.2"/><circle cx="314.8" cy="53.9" r="2.8"/><circle cx="319.1" cy="54.4" r="3.2"/><circle cx="324.9" cy="54.2" r="2.9"/><circle cx="330.3" cy="54.1" r="2.9"/><circle cx="336.3" cy="54.2" r="2.9"/><circle cx="342.3" cy="53.3" r="2.9"/><circle cx="347.2" cy="53.1" r="3.0"/><circle cx="352.9" cy="53.2" r="3.3"/><circle cx="317.7" cy="58.8" r="3.1"/><circle cx="322.0" cy="57.9" r="3.3"/><circle cx="328.3" cy="59.2" r="3.1"/><circle cx="333.5" cy="58.9" r="3.3"/><circle cx="338.4" cy="58.6" r="3.3"/><circle cx="344.8" cy="58.8" r="3.3"/><circle cx="314.8" cy="63.2" r="3.3"/><circle cx="319.9" cy="63.5" r="3.1"/><circle cx="325.4" cy="62.8" r="3.3"/><circle cx="331.3" cy="63.7" r="3.2"/><circle cx="336.4" cy="63.3" r="2.8"/><circle cx="342.1" cy="62.7" r="3.0"/><circle cx="346.9" cy="63.6" r="3.1"/><circle cx="353.3" cy="63.0" r="2.9"/><circle cx="317.2" cy="67.7" r="3.3"/><circle cx="322.7" cy="68.1" r="2.9"/><circle cx="328.2" cy="67.7" r="3.2"/><circle cx="334.1" cy="68.7" r="3.1"/><circle cx="338.7" cy="67.6" r="3.3"/><circle cx="349.7" cy="67.7" r="2.9"/><circle cx="313.8" cy="72.8" r="3.0"/><circle cx="325.2" cy="72.4" r="3.3"/><circle cx="330.1" cy="73.2" r="2.9"/><circle cx="336.7" cy="72.3" r="3.0"/><circle cx="341.1" cy="73.4" r="2.8"/><circle cx="346.6" cy="73.1" r="3.1"/><circle cx="317.3" cy="77.3" r="2.9"/><circle cx="321.8" cy="77.7" r="2.9"/><circle cx="327.7" cy="77.5" r="3.1"/><circle cx="333.7" cy="78.1" r="3.2"/><circle cx="339.6" cy="77.2" r="3.2"/><circle cx="344.0" cy="77.7" r="3.3"/><circle cx="314.7" cy="83.2" r="3.1"/><circle cx="319.3" cy="82.9" r="3.1"/><circle cx="325.6" cy="82.1" r="3.3"/><circle cx="331.4" cy="82.6" r="2.9"/><circle cx="336.8" cy="83.0" r="2.8"/><circle cx="341.7" cy="82.6" r="3.0"/><circle cx="346.6" cy="83.0" r="3.2"/><circle cx="316.5" cy="86.9" r="3.2"/><circle cx="323.0" cy="87.6" r="3.0"/><circle cx="328.6" cy="86.8" r="3.1"/><circle cx="333.2" cy="87.7" r="3.1"/><circle cx="339.5" cy="87.4" r="3.0"/><circle cx="345.0" cy="87.9" r="3.3"/><circle cx="350.7" cy="87.4" r="2.9"/><circle cx="314.3" cy="92.2" r="2.8"/><circle cx="320.4" cy="92.2" r="3.2"/><circle cx="325.3" cy="92.1" r="2.8"/><circle cx="336.8" cy="91.8" r="2.8"/><circle cx="341.7" cy="92.6" r="3.0"/><circle cx="347.0" cy="91.7" r="3.3"/><circle cx="352.2" cy="92.5" r="2.9"/><circle cx="316.6" cy="97.2" r="3.0"/><circle cx="322.7" cy="96.4" r="2.8"/><circle cx="328.0" cy="96.6" r="3.1"/><circle cx="333.4" cy="96.8" r="3.1"/><circle cx="338.5" cy="96.5" r="3.1"/><circle cx="344.5" cy="97.4" r="3.3"/><circle cx="314.8" cy="101.5" r="3.3"/><circle cx="319.4" cy="102.4" r="2.8"/><circle cx="324.9" cy="102.1" r="2.8"/><circle cx="331.2" cy="101.6" r="2.8"/><circle cx="336.1" cy="102.0" r="2.9"/><circle cx="346.7" cy="101.8" r="3.1"/><circle cx="353.0" cy="101.3" r="2.8"/><circle cx="316.4" cy="106.6" r="3.1"/><circle cx="322.0" cy="106.1" r="3.3"/><circle cx="328.7" cy="107.1" r="2.8"/><circle cx="334.1" cy="106.5" r="2.9"/><circle cx="339.0" cy="106.6" r="3.1"/><circle cx="343.8" cy="106.8" r="2.9"/><circle cx="349.9" cy="106.9" r="2.9"/><circle cx="313.8" cy="111.4" r="3.3"/><circle cx="320.2" cy="111.6" r="3.1"/><circle cx="325.1" cy="111.5" r="3.3"/><circle cx="331.2" cy="111.0" r="3.2"/><circle cx="336.6" cy="111.8" r="3.3"/><circle cx="342.3" cy="111.6" r="3.2"/><circle cx="347.1" cy="111.7" r="3.0"/><circle cx="352.7" cy="110.7" r="3.1"/><circle cx="317.2" cy="115.8" r="3.1"/><circle cx="322.3" cy="116.4" r="3.1"/><circle cx="327.8" cy="116.8" r="3.2"/><circle cx="333.9" cy="116.8" r="3.1"/><circle cx="339.3" cy="115.8" r="2.8"/><circle cx="344.1" cy="116.0" r="2.9"/><circle cx="350.6" cy="116.2" r="3.3"/><circle cx="314.3" cy="121.6" r="3.2"/><circle cx="319.2" cy="121.1" r="2.8"/><circle cx="325.9" cy="120.5" r="2.9"/><circle cx="330.7" cy="121.1" r="3.3"/><circle cx="336.1" cy="121.0" r="3.0"/><circle cx="341.5" cy="121.2" r="2.9"/><circle cx="347.6" cy="120.7" r="2.9"/><circle cx="316.8" cy="126.3" r="2.8"/><circle cx="323.2" cy="126.4" r="3.3"/><circle cx="333.1" cy="125.8" r="3.2"/><circle cx="339.0" cy="126.4" r="3.1"/><circle cx="344.0" cy="125.9" r="2.9"/><circle cx="349.4" cy="125.8" r="3.0"/><circle cx="314.5" cy="130.5" r="3.1"/><circle cx="319.6" cy="130.9" r="3.3"/><circle cx="325.9" cy="130.9" r="2.8"/><circle cx="331.3" cy="130.9" r="3.0"/><circle cx="335.9" cy="130.8" r="3.1"/><circle cx="341.9" cy="130.9" r="2.9"/><circle cx="347.9" cy="131.1" r="2.8"/><circle cx="352.1" cy="130.2" r="3.1"/><circle cx="316.4" cy="135.4" r="2.8"/><circle cx="322.7" cy="135.4" r="3.0"/><circle cx="328.0" cy="134.9" r="3.2"/><circle cx="334.0" cy="134.8" r="3.2"/><circle cx="339.2" cy="135.7" r="3.0"/><circle cx="344.2" cy="135.8" r="3.1"/><circle cx="350.7" cy="135.1" r="3.2"/><circle cx="314.8" cy="140.0" r="2.8"/><circle cx="320.3" cy="139.6" r="3.1"/><circle cx="325.2" cy="140.4" r="3.2"/><circle cx="330.2" cy="139.7" r="2.8"/><circle cx="336.0" cy="140.5" r="2.9"/><circle cx="341.3" cy="140.0" r="3.0"/><circle cx="346.7" cy="140.4" r="3.3"/><circle cx="353.4" cy="140.7" r="3.2"/><circle cx="316.7" cy="144.7" r="3.3"/><circle cx="323.1" cy="144.6" r="3.0"/><circle cx="327.8" cy="144.8" r="2.9"/><circle cx="333.6" cy="145.4" r="3.3"/><circle cx="339.1" cy="144.5" r="3.3"/><circle cx="344.2" cy="144.3" r="3.1"/><circle cx="350.1" cy="145.6" r="3.2"/><circle cx="313.6" cy="149.8" r="2.8"/><circle cx="319.2" cy="150.1" r="2.8"/><circle cx="325.4" cy="149.3" r="3.1"/><circle cx="330.4" cy="149.4" r="3.1"/><circle cx="336.6" cy="149.6" r="3.3"/><circle cx="342.0" cy="149.7" r="3.2"/><circle cx="347.5" cy="150.3" r="3.2"/><circle cx="322.7" cy="154.6" r="3.2"/><circle cx="327.9" cy="154.4" r="3.2"/><circle cx="334.2" cy="154.4" r="2.9"/><circle cx="343.9" cy="154.3" r="3.1"/><circle cx="350.4" cy="154.1" r="3.0"/><circle cx="314.4" cy="159.9" r="2.8"/><circle cx="319.3" cy="159.0" r="3.2"/><circle cx="325.4" cy="159.0" r="2.9"/><circle cx="330.3" cy="159.7" r="3.1"/><circle cx="336.7" cy="159.3" r="3.3"/><circle cx="342.3" cy="159.1" r="3.3"/><circle cx="347.2" cy="159.0" r="3.3"/><circle cx="353.2" cy="159.2" r="3.1"/><circle cx="316.7" cy="164.8" r="2.9"/><circle cx="321.8" cy="164.1" r="3.2"/><circle cx="328.3" cy="164.3" r="2.8"/><circle cx="333.3" cy="163.8" r="3.1"/><circle cx="339.2" cy="164.8" r="3.1"/><circle cx="344.0" cy="164.5" r="3.2"/><circle cx="350.5" cy="164.6" r="2.9"/><circle cx="314.6" cy="168.4" r="3.0"/><circle cx="320.4" cy="169.1" r="2.9"/><circle cx="325.7" cy="168.8" r="2.8"/><circle cx="331.2" cy="168.5" r="3.1"/><circle cx="335.8" cy="169.4" r="2.9"/><circle cx="341.2" cy="168.7" r="3.2"/><circle cx="347.1" cy="169.2" r="3.0"/><circle cx="317.2" cy="173.1" r="3.2"/><circle cx="322.1" cy="173.8" r="2.8"/><circle cx="328.7" cy="174.2" r="3.1"/><circle cx="333.2" cy="173.6" r="2.9"/><circle cx="338.8" cy="173.6" r="2.9"/><circle cx="344.1" cy="174.1" r="3.3"/><circle cx="350.1" cy="174.1" r="3.2"/><circle cx="313.7" cy="178.0" r="3.2"/><circle cx="320.0" cy="178.1" r="3.3"/><circle cx="325.4" cy="178.0" r="2.8"/><circle cx="330.2" cy="178.4" r="3.3"/><circle cx="336.1" cy="178.6" r="3.2"/><circle cx="342.2" cy="178.4" r="3.0"/><circle cx="346.6" cy="178.4" r="3.3"/><circle cx="353.2" cy="178.8" r="2.8"/><circle cx="316.8" cy="183.1" r="2.8"/><circle cx="328.5" cy="183.5" r="3.2"/><circle cx="334.1" cy="183.4" r="3.1"/><circle cx="349.6" cy="184.0" r="2.9"/><circle cx="313.7" cy="187.8" r="3.2"/><circle cx="319.5" cy="188.8" r="3.0"/><circle cx="324.7" cy="188.8" r="3.3"/><circle cx="330.8" cy="188.2" r="2.9"/><circle cx="347.0" cy="188.7" r="3.1"/><circle cx="353.2" cy="187.7" r="2.8"/></g><g fill="#f00fbc"><ellipse cx="337.3" cy="49.2" rx="3.8" ry="4.2" transform="rotate(10 337.3 49.2)"/><ellipse cx="346.0" cy="45.7" rx="3.9" ry="4.1" transform="rotate(-18 346.0 45.7)"/><ellipse cx="319.5" cy="60.3" rx="3.7" ry="4.0" transform="rotate(1 319.5 60.3)"/><ellipse cx="334.7" cy="59.7" rx="3.7" ry="4.0" transform="rotate(10 334.7 59.7)"/><ellipse cx="349.6" cy="62.4" rx="3.6" ry="4.1" transform="rotate(7 349.6 62.4)"/><ellipse cx="323.4" cy="80.5" rx="3.6" ry="4.7" transform="rotate(20 323.4 80.5)"/><ellipse cx="333.7" cy="77.4" rx="3.7" ry="4.7" transform="rotate(2 333.7 77.4)"/><ellipse cx="346.3" cy="82.1" rx="3.4" ry="3.6" transform="rotate(14 346.3 82.1)"/><ellipse cx="323.2" cy="95.6" rx="3.9" ry="4.3" transform="rotate(6 323.2 95.6)"/><ellipse cx="346.4" cy="94.7" rx="3.5" ry="3.7" transform="rotate(12 346.4 94.7)"/><ellipse cx="320.1" cy="109.3" rx="3.5" ry="3.9" transform="rotate(-26 320.1 109.3)"/><ellipse cx="337.2" cy="112.9" rx="4.0" ry="4.6" transform="rotate(18 337.2 112.9)"/><ellipse cx="348.3" cy="111.9" rx="4.0" ry="4.3" transform="rotate(18 348.3 111.9)"/><ellipse cx="322.0" cy="132.4" rx="3.1" ry="3.4" transform="rotate(-12 322.0 132.4)"/><ellipse cx="331.5" cy="131.8" rx="3.9" ry="4.5" transform="rotate(-9 331.5 131.8)"/><ellipse cx="343.9" cy="123.2" rx="4.0" ry="4.5" transform="rotate(-0 343.9 123.2)"/><ellipse cx="324.7" cy="144.2" rx="3.3" ry="3.7" transform="rotate(25 324.7 144.2)"/><ellipse cx="332.3" cy="147.8" rx="3.5" ry="4.0" transform="rotate(-20 332.3 147.8)"/><ellipse cx="349.8" cy="141.5" rx="3.7" ry="4.1" transform="rotate(23 349.8 141.5)"/><ellipse cx="335.7" cy="159.2" rx="4.0" ry="5.1" transform="rotate(13 335.7 159.2)"/><ellipse cx="348.0" cy="165.4" rx="3.5" ry="3.8" transform="rotate(-17 348.0 165.4)"/><ellipse cx="323.1" cy="174.7" rx="3.3" ry="3.6" transform="rotate(10 323.1 174.7)"/><ellipse cx="333.5" cy="179.3" rx="4.0" ry="4.8" transform="rotate(-16 333.5 179.3)"/><ellipse cx="349.4" cy="179.4" rx="3.4" ry="4.1" transform="rotate(-25 349.4 179.4)"/><circle cx="352.4" cy="102.2" r="1.7"/><circle cx="335.4" cy="42.4" r="1.7"/><circle cx="326.2" cy="73.5" r="1.9"/><circle cx="318.8" cy="78.7" r="1.8"/><circle cx="324.7" cy="77.8" r="1.7"/><circle cx="322.5" cy="171.4" r="2.0"/><circle cx="316.8" cy="105.4" r="1.8"/><circle cx="329.9" cy="176.3" r="1.6"/><circle cx="322.2" cy="119.7" r="1.8"/><circle cx="329.0" cy="135.2" r="1.8"/><circle cx="334.9" cy="112.1" r="1.9"/><circle cx="341.2" cy="114.4" r="2.0"/><circle cx="322.0" cy="153.6" r="1.4"/><circle cx="338.3" cy="71.2" r="1.6"/></g>
<text x="262.3" y="106.3" font-family='"Liberation Sans", sans-serif' font-size="10" font-weight="bold" font-style="normal" fill="#143814" stroke="#143814" stroke-width="0.2" text-anchor="middle" >Silicon</text>
<text x="262.0" y="118.6" font-family='"Liberation Sans", sans-serif' font-size="10" font-weight="bold" font-style="normal" fill="#143814" stroke="#143814" stroke-width="0.2" text-anchor="middle" >or</text>
<text x="262.0" y="128.8" font-family='"Liberation Sans", sans-serif' font-size="10" font-weight="bold" font-style="normal" fill="#143814" stroke="#143814" stroke-width="0.2" text-anchor="middle" >Tin</text>
<text x="0" y="0" font-family='"Liberation Sans", sans-serif' font-size="10" font-weight="normal" font-style="normal" fill="#184a38" stroke="#184a38" stroke-width="0.42" text-anchor="middle" transform="translate(304.1 114.1) rotate(-90)">Electrolyte</text>
<circle cx="62.3" cy="225.5" r="5.4" fill="#f6b713"/>
<text x="87.2" y="228.9" font-family='"Liberation Sans", sans-serif' font-size="12" font-weight="normal" font-style="normal" fill="#222" stroke="#222" stroke-width="0.42" text-anchor="start" >Sulfur</text>
<circle cx="171.6" cy="225.1" r="3.3" fill="#0a0a0a"/>
<text x="191.2" y="229.2" font-family='"Liberation Sans", sans-serif' font-size="12" font-weight="normal" font-style="normal" fill="#222" stroke="#222" stroke-width="0.42" text-anchor="start" >Carbon</text>
<circle cx="285.5" cy="223.2" r="5.5" fill="#f00fbc"/>
<text x="312" y="229.3" font-family='"Liberation Sans", sans-serif' font-size="12" font-weight="normal" font-style="normal" fill="#222" stroke="#222" stroke-width="0.42" text-anchor="start" >Li<tspan font-size="8.5" dy="2.5">2</tspan><tspan dy="-2.5">S</tspan></text>
<ellipse cx="564" cy="104" rx="87" ry="6.6" fill="#f9e5ba" transform="rotate(8.4 564 104)"/>
<ellipse cx="473.6" cy="110.6" rx="15.6" ry="4.8" fill="#e1e7d6"/>
<ellipse cx="498.5" cy="137" rx="29.5" ry="5.4" fill="#f9e2d0" transform="rotate(61 498.5 137)"/>
<ellipse cx="584" cy="162" rx="66" ry="7" fill="#e6e1f1" transform="rotate(1.2 584 162)"/>
<ellipse cx="514.2" cy="163" rx="8.4" ry="6.7" fill="#b9cde6"/>
<ellipse cx="660" cy="188" rx="26" ry="6.8" fill="#cde2ea" transform="rotate(60 660 188)"/>
<ellipse cx="664" cy="113.5" rx="14.5" ry="9" fill="#b8cce8"/>
<path d="M529,64.6 L539.5,55.6 L539.5,59.4 L671,59.4 L671,68.5 L539.5,68.5 L539.5,73 Z" fill="url(#gCharge)"/>
<path d="M456,198.3 L576.6,198.3 L576.6,194.4 L585.5,203.1 L576.6,212.2 L576.6,207.9 L456,207.9 Z" fill="url(#gDis)"/>
<path d="M458.6,47.4 L458.6,102 Q458.6,106 462,106.3 L486.5,110.4 L510.4,165 L512,166.4 L517.5,162.8 L645.5,164.95 Q648.6,165 650,167.3 L673.8,207.2" fill="none" stroke="#3e3d84" stroke-width="2.1" stroke-linejoin="round"/>
<path d="M461.8,49.9 C465,62 468,80 472,86 C475,91 478,93.5 484,94 L652,118 C654,118 655,114 657,112 C660,108 662,106.5 665,106.5 C668,106.5 669.3,108 669.5,112 L674.6,207.3" fill="none" stroke="#c8284f" stroke-width="2.1" stroke-linejoin="round"/>
<rect x="447.6" y="25.3" width="234.6" height="190.1" fill="none" stroke="#1a1a1a" stroke-width="1.5"/>
<g stroke="#1a1a1a" stroke-width="1.3"><line x1="456.8" y1="25.3" x2="456.8" y2="29.3"/><line x1="456.8" y1="215.4" x2="456.8" y2="211.4"/><line x1="510.7" y1="25.3" x2="510.7" y2="29.3"/><line x1="510.7" y1="215.4" x2="510.7" y2="211.4"/><line x1="564.9" y1="25.3" x2="564.9" y2="29.3"/><line x1="564.9" y1="215.4" x2="564.9" y2="211.4"/><line x1="622.5" y1="25.3" x2="622.5" y2="29.3"/><line x1="622.5" y1="215.4" x2="622.5" y2="211.4"/><line x1="674.9" y1="25.3" x2="674.9" y2="29.3"/><line x1="674.9" y1="215.4" x2="674.9" y2="211.4"/><line x1="447.6" y1="47.3" x2="451.6" y2="47.3"/><line x1="447.6" y1="65.5" x2="451.6" y2="65.5"/><line x1="447.6" y1="84.6" x2="451.6" y2="84.6"/><line x1="447.6" y1="102.6" x2="451.6" y2="102.6"/><line x1="447.6" y1="121.2" x2="451.6" y2="121.2"/><line x1="447.6" y1="139.8" x2="451.6" y2="139.8"/><line x1="447.6" y1="159.4" x2="451.6" y2="159.4"/><line x1="447.6" y1="177.8" x2="451.6" y2="177.8"/><line x1="447.6" y1="197" x2="451.6" y2="197"/></g>
<text x="458.7" y="22.3" font-family='"Liberation Sans", sans-serif' font-size="10" font-weight="bold" font-style="normal" fill="#222" stroke="#222" stroke-width="0.25" text-anchor="middle" letter-spacing="0.4">100</text>
<text x="511.5" y="22.3" font-family='"Liberation Sans", sans-serif' font-size="10" font-weight="bold" font-style="normal" fill="#222" stroke="#222" stroke-width="0.25" text-anchor="middle" letter-spacing="0.4">75</text>
<text x="565.0" y="22.3" font-family='"Liberation Sans", sans-serif' font-size="10" font-weight="bold" font-style="normal" fill="#222" stroke="#222" stroke-width="0.25" text-anchor="middle" letter-spacing="0.4">50</text>
<text x="622.9000000000001" y="22.3" font-family='"Liberation Sans", sans-serif' font-size="10" font-weight="bold" font-style="normal" fill="#222" stroke="#222" stroke-width="0.25" text-anchor="middle" letter-spacing="0.4">25</text>
<text x="675.4000000000001" y="22.3" font-family='"Liberation Sans", sans-serif' font-size="10" font-weight="bold" font-style="normal" fill="#222" stroke="#222" stroke-width="0.25" text-anchor="middle" letter-spacing="0.4">0</text>
<text x="458.09999999999997" y="224.6" font-family='"Liberation Sans", sans-serif' font-size="10" font-weight="bold" font-style="normal" fill="#222" stroke="#222" stroke-width="0.25" text-anchor="middle" letter-spacing="0.4">0</text>
<text x="510.7" y="224.6" font-family='"Liberation Sans", sans-serif' font-size="10" font-weight="bold" font-style="normal" fill="#222" stroke="#222" stroke-width="0.25" text-anchor="middle" letter-spacing="0.4">25</text>
<text x="565.0" y="224.6" font-family='"Liberation Sans", sans-serif' font-size="10" font-weight="bold" font-style="normal" fill="#222" stroke="#222" stroke-width="0.25" text-anchor="middle" letter-spacing="0.4">50</text>
<text x="622.7" y="224.6" font-family='"Liberation Sans", sans-serif' font-size="10" font-weight="bold" font-style="normal" fill="#222" stroke="#222" stroke-width="0.25" text-anchor="middle" letter-spacing="0.4">75</text>
<text x="674.7" y="224.6" font-family='"Liberation Sans", sans-serif' font-size="10" font-weight="bold" font-style="normal" fill="#222" stroke="#222" stroke-width="0.25" text-anchor="middle" letter-spacing="0.4">100</text>
<text x="444.6" y="31.0" font-family='"Liberation Sans", sans-serif' font-size="10" font-weight="bold" font-style="normal" fill="#222" stroke="#222" stroke-width="0.25" text-anchor="end" letter-spacing="0.9">2.8</text>
<text x="444.6" y="68.89999999999999" font-family='"Liberation Sans", sans-serif' font-size="10" font-weight="bold" font-style="normal" fill="#222" stroke="#222" stroke-width="0.25" text-anchor="end" letter-spacing="0.9">2.6</text>
<text x="444.6" y="105.1" font-family='"Liberation Sans", sans-serif' font-size="10" font-weight="bold" font-style="normal" fill="#222" stroke="#222" stroke-width="0.25" text-anchor="end" letter-spacing="0.9">2.4</text>
<text x="444.6" y="143.2" font-family='"Liberation Sans", sans-serif' font-size="10" font-weight="bold" font-style="normal" fill="#222" stroke="#222" stroke-width="0.25" text-anchor="end" letter-spacing="0.9">2.2</text>
<text x="444.6" y="181.2" font-family='"Liberation Sans", sans-serif' font-size="10" font-weight="bold" font-style="normal" fill="#222" stroke="#222" stroke-width="0.25" text-anchor="end" letter-spacing="0.9">2.0</text>
<text x="444.6" y="219.0" font-family='"Liberation Sans", sans-serif' font-size="10" font-weight="bold" font-style="normal" fill="#222" stroke="#222" stroke-width="0.25" text-anchor="end" letter-spacing="0.9">1.8</text>
<text x="567.5" y="8.8" font-family='"Liberation Sans", sans-serif' font-size="12" font-weight="normal" font-style="normal" fill="#222" stroke="#222" stroke-width="0.42" text-anchor="middle" >State of charge (%)</text>
<text x="575.5" y="241.8" font-family='"Liberation Sans", sans-serif' font-size="12" font-weight="normal" font-style="normal" fill="#222" stroke="#222" stroke-width="0.42" text-anchor="middle" >State of discharge (%)</text>
<text x="0" y="0" font-family='"Liberation Sans", sans-serif' font-size="10" font-weight="normal" font-style="normal" fill="#333" stroke="#333" stroke-width="0.3" text-anchor="middle" letter-spacing="0.45" transform="translate(419.6 117.4) rotate(-90)">Potential (<tspan font-style="italic">vs.</tspan> Li/Li<tspan font-size="6.5" dy="-3.5">+</tspan><tspan dy="3.5">)</tspan></text>
<text x="677.6" y="39.3" font-family='"Liberation Sans", sans-serif' font-size="7.6" font-weight="bold" font-style="italic" fill="#333" stroke="#333" stroke-width="0.25" text-anchor="end" letter-spacing="0.05">S : solid phase</text>
<text x="677.6" y="50.1" font-family='"Liberation Sans", sans-serif' font-size="7.6" font-weight="bold" font-style="italic" fill="#333" stroke="#333" stroke-width="0.25" text-anchor="end" letter-spacing="-0.1">L : liquid phase</text>
<text x="604.3" y="67.5" font-family='"Liberation Sans", sans-serif' font-size="9.5" font-weight="normal" font-style="normal" fill="#2a1418" stroke="#2a1418" stroke-width="0.42" text-anchor="middle" >Charge</text>
<text x="553" y="80.8" font-family='"Liberation Sans", sans-serif' font-size="9.5" font-weight="normal" font-style="normal" fill="#222" stroke="#222" stroke-width="0.42" text-anchor="start" >8Li<tspan font-size="6" dy="2">2</tspan><tspan dy="-2">S</tspan></text>
<path d="M578.0,77.9 H585.2 M582.9,74.9 L586.0,77.9 L582.9,80.9" fill="none" stroke="#222" stroke-width="1.3" stroke-linejoin="miter"/>
<text x="589.6" y="80.8" font-family='"Liberation Sans", sans-serif' font-size="9.5" font-weight="normal" font-style="normal" fill="#222" stroke="#222" stroke-width="0.42" text-anchor="start" letter-spacing="-0.08">S<tspan font-size="6" dy="2">8</tspan><tspan dy="-2"> + 16Li</tspan><tspan font-size="6" dy="-3">+</tspan><tspan dy="3"> +16e</tspan><tspan font-size="6" dy="-3">-</tspan></text>
<text x="470" y="192.9" font-family='"Liberation Sans", sans-serif' font-size="9.5" font-weight="normal" font-style="normal" fill="#222" stroke="#222" stroke-width="0.42" text-anchor="start" letter-spacing="0.05">S<tspan font-size="6" dy="2">8</tspan><tspan dy="-2"> + 16Li</tspan><tspan font-size="6" dy="-3">+</tspan><tspan dy="3"> +16e</tspan><tspan font-size="6" dy="-3">-</tspan></text>
<path d="M539.0,189.9 H546.0 M543.6,186.9 L546.8,189.9 L543.6,192.9" fill="none" stroke="#222" stroke-width="1.3" stroke-linejoin="miter"/>
<text x="551.2" y="192.9" font-family='"Liberation Sans", sans-serif' font-size="9.5" font-weight="normal" font-style="normal" fill="#222" stroke="#222" stroke-width="0.42" text-anchor="start" >8Li<tspan font-size="6" dy="2">2</tspan><tspan dy="-2">S</tspan></text>
<text x="520.9" y="206.2" font-family='"Liberation Sans", sans-serif' font-size="9.5" font-weight="normal" font-style="normal" fill="#1f2461" stroke="#1f2461" stroke-width="0.42" text-anchor="middle" >Discharge</text>
<g><text x="466.6" y="105.8" font-family='"Liberation Sans", sans-serif' font-size="7.6" font-weight="bold" font-style="italic" fill="#333" stroke="#333" stroke-width="0.25" text-anchor="start" >S</text><path d="M471.8,103.2 H479.2 M477.6,100.9 L480.0,103.2 L477.6,105.5" fill="none" stroke="#333" stroke-width="1.14" stroke-linejoin="miter"/><text x="480.66" y="105.8" font-family='"Liberation Sans", sans-serif' font-size="7.6" font-weight="bold" font-style="italic" fill="#333" stroke="#333" stroke-width="0.25" text-anchor="start" >L</text></g>
<text x="471.6" y="117.7" font-family='"Liberation Sans", sans-serif' font-size="8.5" font-weight="bold" font-style="normal" fill="#333" stroke="#333" stroke-width="0.25" text-anchor="middle" >I</text>
<text x="494.2" y="143.6" font-family='"Liberation Sans", sans-serif' font-size="8.5" font-weight="bold" font-style="normal" fill="#333" stroke="#333" stroke-width="0.25" text-anchor="middle" >II</text>
<g><text x="504.6" y="140.1" font-family='"Liberation Sans", sans-serif' font-size="7.6" font-weight="bold" font-style="italic" fill="#333" stroke="#333" stroke-width="0.25" text-anchor="start" >L</text><path d="M509.3,137.5 H516.1 M514.5,135.2 L516.9,137.5 L514.5,139.8" fill="none" stroke="#333" stroke-width="1.14" stroke-linejoin="miter"/><text x="517.56" y="140.1" font-family='"Liberation Sans", sans-serif' font-size="7.6" font-weight="bold" font-style="italic" fill="#333" stroke="#333" stroke-width="0.25" text-anchor="start" >L</text></g>
<text x="515.1" y="174.5" font-family='"Liberation Sans", sans-serif' font-size="7.5" font-weight="bold" font-style="normal" fill="#333" stroke="#333" stroke-width="0.25" text-anchor="middle" letter-spacing="-0.05">Potential dip</text>
<g><text x="561.6" y="116.7" font-family='"Liberation Sans", sans-serif' font-size="7.6" font-weight="bold" font-style="italic" fill="#333" stroke="#333" stroke-width="0.25" text-anchor="start" >L</text><path d="M566.3,114.1 H574.7 M573.1,111.8 L575.5,114.1 L573.1,116.4" fill="none" stroke="#333" stroke-width="1.14" stroke-linejoin="miter"/><text x="576.23" y="116.7" font-family='"Liberation Sans", sans-serif' font-size="7.6" font-weight="bold" font-style="italic" fill="#333" stroke="#333" stroke-width="0.25" text-anchor="start" >S</text></g>
<g><text x="570.2" y="158.2" font-family='"Liberation Sans", sans-serif' font-size="7.6" font-weight="bold" font-style="italic" fill="#333" stroke="#333" stroke-width="0.25" text-anchor="start" >L</text><path d="M574.9,155.6 H584.2 M582.6,153.3 L585.0,155.6 L582.6,157.9" fill="none" stroke="#333" stroke-width="1.14" stroke-linejoin="miter"/><text x="585.73" y="158.2" font-family='"Liberation Sans", sans-serif' font-size="7.6" font-weight="bold" font-style="italic" fill="#333" stroke="#333" stroke-width="0.25" text-anchor="start" >S</text></g>
<text x="581.6" y="174" font-family='"Liberation Sans", sans-serif' font-size="8.5" font-weight="bold" font-style="normal" fill="#333" stroke="#333" stroke-width="0.25" text-anchor="middle" >III</text>
<g><text x="638" y="187.2" font-family='"Liberation Sans", sans-serif' font-size="7.6" font-weight="bold" font-style="italic" fill="#333" stroke="#333" stroke-width="0.25" text-anchor="start" >S</text><path d="M643.2,184.6 H652.9 M651.3,182.3 L653.7,184.6 L651.3,186.9" fill="none" stroke="#333" stroke-width="1.14" stroke-linejoin="miter"/><text x="654.43" y="187.2" font-family='"Liberation Sans", sans-serif' font-size="7.6" font-weight="bold" font-style="italic" fill="#333" stroke="#333" stroke-width="0.25" text-anchor="start" >S</text></g>
<text x="657.4" y="200.4" font-family='"Liberation Sans", sans-serif' font-size="9.5" font-weight="bold" font-style="normal" fill="#333" stroke="#333" stroke-width="0.25" text-anchor="middle" >IV</text>
<g><text x="657.2" y="105.8" font-family='"Liberation Sans", sans-serif' font-size="7.6" font-weight="bold" font-style="italic" fill="#333" stroke="#333" stroke-width="0.25" text-anchor="start" >S</text><path d="M662.4,103.2 H670.2 M668.6,100.9 L671.0,103.2 L668.6,105.5" fill="none" stroke="#333" stroke-width="1.14" stroke-linejoin="miter"/><text x="671.66" y="105.8" font-family='"Liberation Sans", sans-serif' font-size="7.6" font-weight="bold" font-style="italic" fill="#333" stroke="#333" stroke-width="0.25" text-anchor="start" >L</text></g>
<text x="650.6" y="128.6" font-family='"Liberation Sans", sans-serif' font-size="7.5" font-weight="bold" font-style="normal" fill="#333" stroke="#333" stroke-width="0.25" text-anchor="middle" letter-spacing="-0.05">Activation</text>
<text x="651.2" y="137.1" font-family='"Liberation Sans", sans-serif' font-size="7.5" font-weight="bold" font-style="normal" fill="#333" stroke="#333" stroke-width="0.25" text-anchor="middle" letter-spacing="0.15">barrier</text></svg>
</body></html>
